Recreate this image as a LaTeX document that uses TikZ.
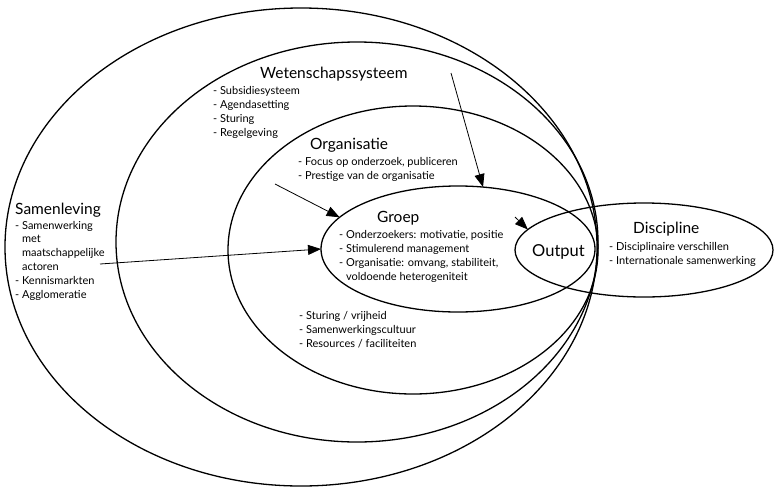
\documentclass[tikz,border=0pt]{standalone}
\usepackage{fontspec}
\setmainfont{Lato}
\usetikzlibrary{positioning, shapes.geometric, arrows.meta}

\tikzset{
  ring/.style={draw, ellipse, line width=1.3pt, inner sep=0pt, outer sep=0pt},
  kop/.style={font=\fontsize{15.5}{18}\selectfont, inner sep=0pt, anchor=base west},
  items/.style={font=\fontsize{11}{13.8}\selectfont, align=left, inner sep=0pt, anchor=base west},
  pijl/.style={-{Triangle[length=13pt,width=10pt]}, line width=0.8pt},
}
\newcommand{\ind}{\phantom{- }}

\begin{document}
\begin{tikzpicture}[x=1pt, y=-1pt]
\useasboundingbox (0,0) rectangle (778,490);

% de ringen
\node[ring, minimum width=592pt, minimum height=478pt] (samen) at (301,247) {};
\node[ring, minimum width=482pt, minimum height=400pt] (weten) at (357,242) {};
\node[ring, minimum width=370pt, minimum height=288pt] (org) at (413,250) {};
\node[ring, minimum width=274pt, minimum height=126pt] (groep) at (458,249) {};
\node[ring, minimum width=258pt, minimum height=94pt] (disc) at (644,250) {};

% teksten (items: positie = basislijn van de laatste regel)
\node[kop] (samenKop) at (15,214) {Samenleving};
\node[items] (samenTxt) at (15,298)
    {- Samenwerking\\\ind met\\\ind maatschappelijke\\\ind actoren\\- Kennismarkten\\- Agglomeratie};
\node[kop] (wetenKop) at (260,78) {Wetenschapssysteem};
\node[items] (wetenTxt) at (213,136)
    {- Subsidiesysteem\\- Agendasetting\\- Sturing\\- Regelgeving};
\node[kop] (orgKop) at (310,149) {Organisatie};
\node[items] (orgTxt) at (298,179.5)
    {- Focus op onderzoek, publiceren\\- Prestige van de organisatie};
\node[items] (orgTxt2) at (299,347)
    {- Sturing / vrijheid\\- Samenwerkingscultuur\\- Resources / faciliteiten};
\node[kop] (groepKop) at (377,222) {Groep};
\node[items] (groepTxt) at (339,280)
    {- Onderzoekers: motivatie, positie\\- Stimulerend management\\- Organisatie: omvang, stabiliteit,\\\ind voldoende heterogeniteit};
\node[kop, font=\fontsize{16.5}{18}\selectfont] (output) at (532,256) {Output};
\node[kop] (discKop) at (633,233) {Discipline};
\node[items] (discTxt) at (609,264)
    {- Disciplinaire verschillen\\- Internationale samenwerking};

% pijlen
\coordinate (vanWeten) at (451,73);
\coordinate (vanOrg) at (275,184);
\coordinate (vanSamen) at (100,264);
\coordinate (vanGroep) at (515,217);
\draw[pijl] (vanWeten) -- (groep.68);
\draw[pijl] (vanOrg) -- (groep.165);
\draw[pijl] (vanSamen) -- (groep.west);
\draw[pijl] (vanGroep) -- (disc.170);
\end{tikzpicture}
\end{document}
